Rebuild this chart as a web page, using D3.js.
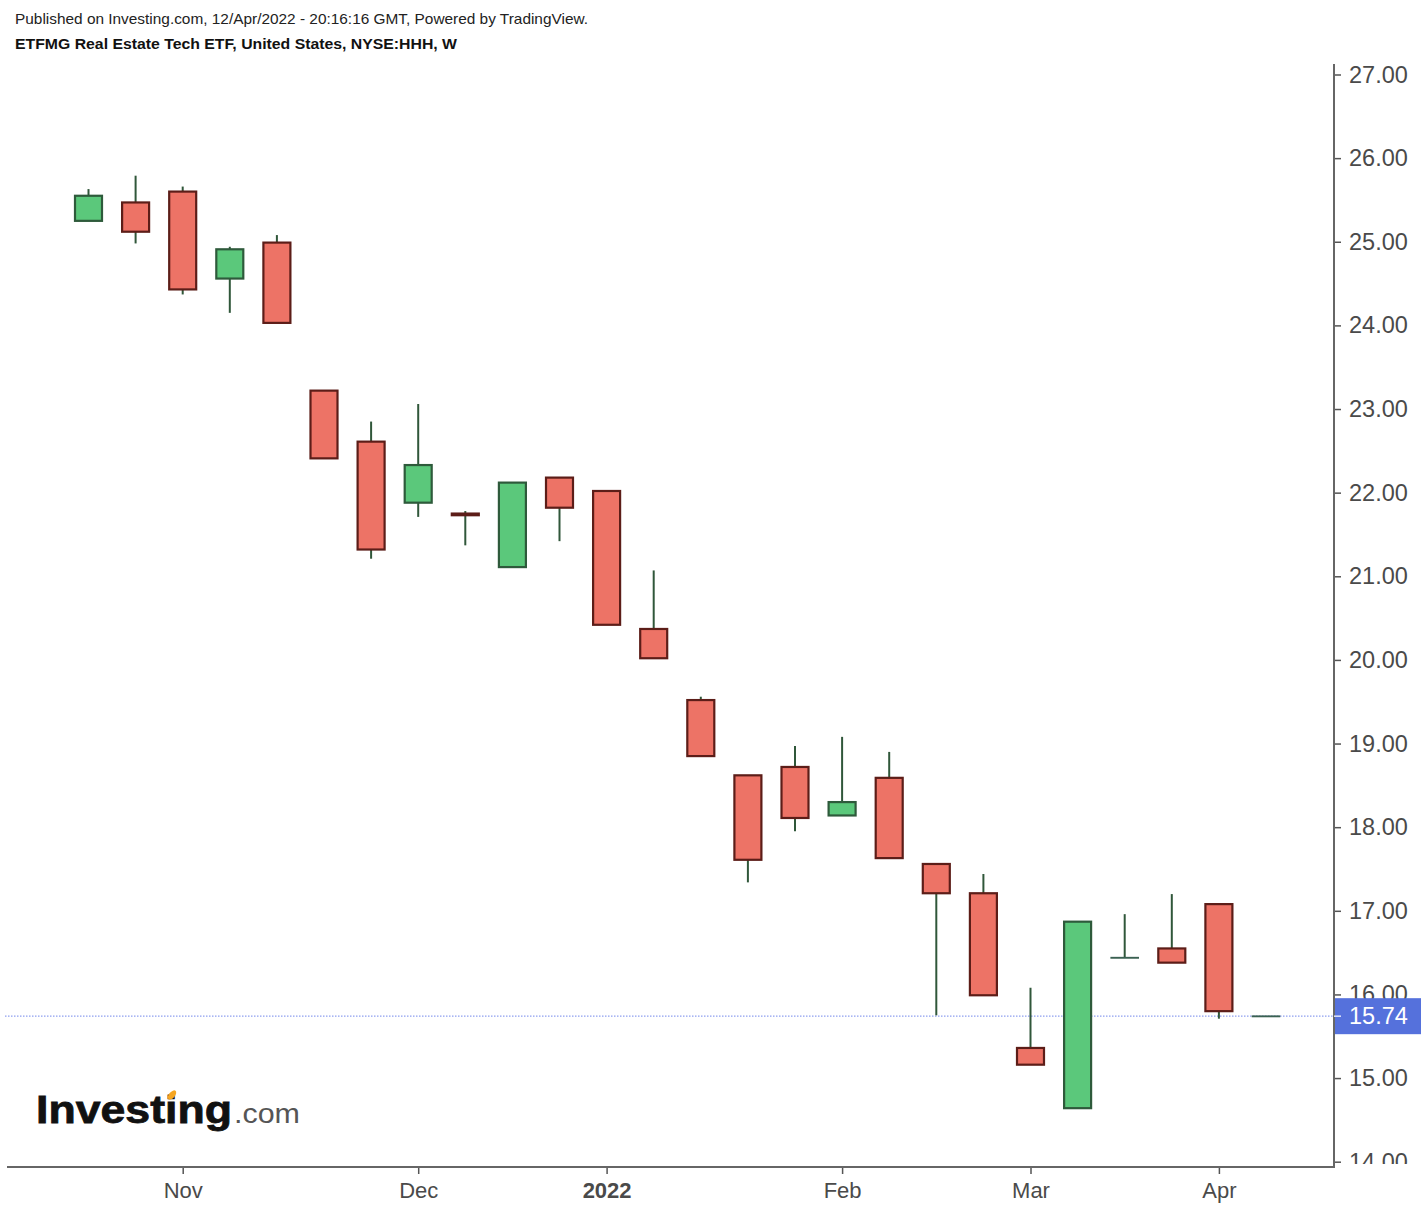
<!DOCTYPE html>
<html>
<head>
<meta charset="utf-8">
<script src="https://cdn.jsdelivr.net/npm/d3@7"></script>
<style>
  body { margin: 0; background: #fff; }
  svg { display: block; font-family: "Liberation Sans", Arial, sans-serif; }
</style>
</head>
<body>
<div id="chart"></div>
<script>

// weekly bars, one per week starting Monday
const WEEKS = ["2021-10-18", "2021-10-25", "2021-11-01", "2021-11-08", "2021-11-15",
  "2021-11-22", "2021-11-29", "2021-12-06", "2021-12-13", "2021-12-20",
  "2021-12-27", "2022-01-03", "2022-01-10", "2022-01-17", "2022-01-24",
  "2022-01-31", "2022-02-07", "2022-02-14", "2022-02-21", "2022-02-28",
  "2022-03-07", "2022-03-14", "2022-03-21", "2022-03-28", "2022-04-04",
  "2022-04-11"];

const OPEN  = [25.25, 25.47, 25.60, 24.56, 24.99, 23.22, 22.61, 21.88, 21.75, 21.11,
  22.18, 22.02, 20.37, 19.52, 18.62, 18.72, 18.14, 18.59, 17.56, 17.21,
  15.36, 14.64, 16.44, 16.55, 17.08, 15.74];
const HIGH  = [25.63, 25.79, 25.66, 24.94, 25.08, 23.22, 22.85, 23.06, 21.78, 22.12,
  22.18, 22.02, 21.07, 19.56, 18.62, 18.97, 19.08, 18.90, 17.56, 17.44,
  16.08, 16.87, 16.96, 17.20, 17.08, 15.74];
const LOW   = [25.25, 24.98, 24.37, 24.15, 24.03, 22.41, 21.21, 21.71, 21.37, 21.11,
  21.42, 20.42, 20.02, 18.85, 17.34, 17.95, 18.14, 17.63, 15.75, 15.99,
  15.16, 14.64, 16.44, 16.38, 15.71, 15.74];
const CLOSE = [25.55, 25.12, 24.43, 24.91, 24.03, 22.41, 21.32, 22.33, 21.73, 22.12,
  21.82, 20.42, 20.02, 18.85, 17.61, 18.11, 18.30, 17.63, 17.21, 15.99,
  15.16, 16.87, 16.44, 16.38, 15.80, 15.74];

const LAST_PRICE = 15.74;
const PRICE_TICKS = [27, 26, 25, 24, 23, 22, 21, 20, 19, 18, 17, 16, 15, 14];
const MONTH_TICKS = ["2021-11-01", "2021-12-06", "2022-01-03", "2022-02-07", "2022-03-07", "2022-04-04"];
const MONTH_LABELS = ["Nov", "Dec", "2022", "Feb", "Mar", "Apr"];

// frame
const FRAME_WIDTH = 1421;
const FRAME_HEIGHT = 1206;
const PLOT = {left: 5, right: 1334, top: 64, bottom: 1167};

const GREEN = "#5bc87b", GREEN_EDGE = "#2e5a3b";
const RED = "#ed7366", RED_EDGE = "#5c1d18";
const WICK = "#30573a";

const parseDay = d3.timeParse("%Y-%m-%d");

const data = WEEKS.map((w, i) => ({
  date: parseDay(w), open: OPEN[i], high: HIGH[i], low: LOW[i], close: CLOSE[i]
}));

const FRAME = d3.select("#chart")
  .append("svg")
    .attr("width", FRAME_WIDTH)
    .attr("height", FRAME_HEIGHT);

// scales
const X_SCALE = d3.scaleTime()
  .domain([data[0].date, data[data.length - 1].date])
  .range([88.5, 1266]);

const Y_SCALE = d3.scaleLinear()
  .domain([14, 27])
  .range([1161.7, 74.5]);

const BODY_W = 27;

// header texts
FRAME.append("text")
  .attr("x", 15).attr("y", 24)
  .attr("font-size", "14.5px").attr("fill", "#222")
  .attr("textLength", 573).attr("lengthAdjust", "spacingAndGlyphs")
  .text("Published on Investing.com, 12/Apr/2022 - 20:16:16 GMT, Powered by TradingView.");

FRAME.append("text")
  .attr("x", 15).attr("y", 49)
  .attr("font-size", "14px").attr("font-weight", "bold").attr("fill", "#111")
  .attr("textLength", 442).attr("lengthAdjust", "spacingAndGlyphs")
  .text("ETFMG Real Estate Tech ETF, United States, NYSE:HHH, W");

// last price dotted line
FRAME.append("line")
  .attr("x1", PLOT.left).attr("x2", PLOT.right)
  .attr("y1", Y_SCALE(LAST_PRICE)).attr("y2", Y_SCALE(LAST_PRICE))
  .attr("stroke", "#8e9ff0").attr("stroke-width", 1.2)
  .attr("stroke-dasharray", "1.5,1.5");

// candles
const candles = FRAME.append("g").selectAll("g")
  .data(data)
  .enter()
  .append("g");

candles.append("line")
  .attr("x1", (d) => X_SCALE(d.date)).attr("x2", (d) => X_SCALE(d.date))
  .attr("y1", (d) => Y_SCALE(d.high)).attr("y2", (d) => Y_SCALE(d.low))
  .attr("stroke", WICK).attr("stroke-width", 2);

candles.append("rect")
  .attr("x", (d) => X_SCALE(d.date) - BODY_W / 2)
  .attr("width", BODY_W)
  .attr("y", (d) => Y_SCALE(Math.max(d.open, d.close)))
  .attr("height", (d) => Math.max(0.3, Math.abs(Y_SCALE(d.open) - Y_SCALE(d.close))))
  .attr("fill", (d) => d.close < d.open ? RED : GREEN)
  .attr("stroke", (d) => d.close < d.open ? RED_EDGE : (d.close === d.open ? "#3a6152" : GREEN_EDGE))
  .attr("stroke-width", (d) => d.close === d.open ? 1.6 : 2.2);

// watermark logo
FRAME.append("text")
  .attr("x", 36).attr("y", 1123)
  .attr("font-size", "39px").attr("font-weight", "bold")
  .attr("fill", "#111").attr("stroke", "#111").attr("stroke-width", 0.8)
  .attr("textLength", 196).attr("lengthAdjust", "spacingAndGlyphs")
  .text("Investing");
FRAME.append("text")
  .attr("x", 234).attr("y", 1123)
  .attr("font-size", "27px").attr("fill", "#555")
  .attr("textLength", 66).attr("lengthAdjust", "spacingAndGlyphs")
  .text(".com");
FRAME.append("ellipse")
  .attr("cx", 172).attr("cy", 1095).attr("rx", 3).attr("ry", 5.5)
  .attr("transform", "rotate(40,172,1095)")
  .attr("fill", "#f5a623");

// right price axis, labels clipped at the bottom axis
FRAME.append("clipPath").attr("id", "yclip")
  .append("rect").attr("x", 0).attr("y", 0)
  .attr("width", 100).attr("height", PLOT.bottom - 3);

const yAxis = FRAME.append("g")
  .attr("transform", "translate(" + PLOT.right + ",0)")
  .attr("clip-path", "url(#yclip)")
  .call(d3.axisRight(Y_SCALE).tickValues(PRICE_TICKS)
    .tickFormat(d3.format(".2f")).tickSize(7).tickPadding(8).tickSizeOuter(0));
yAxis.select(".domain").remove();
yAxis.selectAll("line").attr("stroke", "#555").attr("stroke-width", 1.5);
yAxis.selectAll("text")
  .attr("font-family", "Liberation Sans, Arial, sans-serif")
  .attr("font-size", "23.5px").attr("fill", "#4a4a4a");

FRAME.append("line")
  .attr("x1", PLOT.right).attr("x2", PLOT.right)
  .attr("y1", PLOT.top).attr("y2", PLOT.bottom + 1)
  .attr("stroke", "#666").attr("stroke-width", 2);

// bottom time axis
const xAxis = FRAME.append("g")
  .attr("transform", "translate(0," + PLOT.bottom + ")")
  .call(d3.axisBottom(X_SCALE)
    .tickValues(MONTH_TICKS.map(parseDay))
    .tickFormat((d, i) => MONTH_LABELS[i])
    .tickSize(7).tickPadding(8).tickSizeOuter(0));
xAxis.select(".domain").remove();
xAxis.selectAll("line").attr("stroke", "#555").attr("stroke-width", 1.5);
xAxis.selectAll("text")
  .attr("font-family", "Liberation Sans, Arial, sans-serif")
  .attr("font-size", "22px").attr("fill", "#4a4a4a")
  .attr("font-weight", (d, i) => MONTH_LABELS[i] === "2022" ? "bold" : "normal");

FRAME.append("line")
  .attr("x1", PLOT.left + 2).attr("x2", PLOT.right + 1)
  .attr("y1", PLOT.bottom).attr("y2", PLOT.bottom)
  .attr("stroke", "#666").attr("stroke-width", 2);

// last price label box
const yLast = Y_SCALE(LAST_PRICE);
FRAME.append("rect")
  .attr("x", PLOT.right + 1).attr("y", yLast - 18)
  .attr("width", FRAME_WIDTH - PLOT.right).attr("height", 36)
  .attr("fill", "#5571dc");
FRAME.append("line")
  .attr("x1", PLOT.right).attr("x2", PLOT.right + 7)
  .attr("y1", yLast).attr("y2", yLast)
  .attr("stroke", "#dfe5fb").attr("stroke-width", 1.5);
FRAME.append("text")
  .attr("x", PLOT.right + 15).attr("y", yLast)
  .attr("dy", "0.35em")
  .attr("font-size", "23.5px").attr("fill", "#fff")
  .text(d3.format(".2f")(LAST_PRICE));

</script>
</body>
</html>
